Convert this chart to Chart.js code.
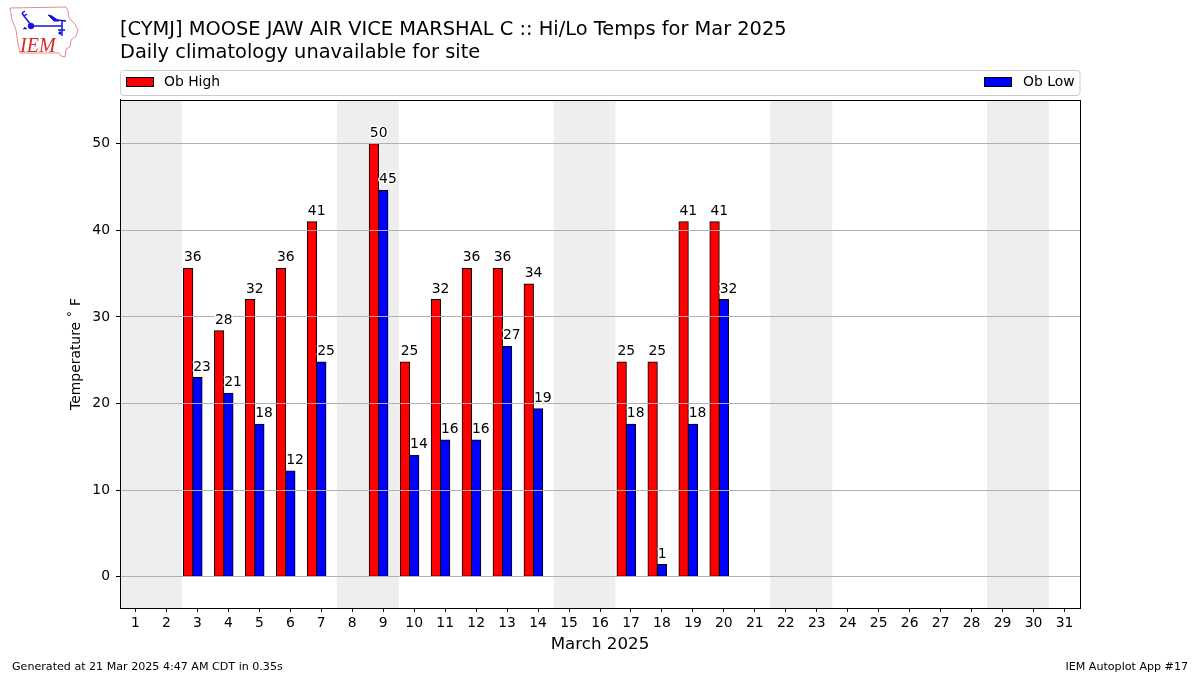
<!DOCTYPE html>
<html>
<head>
<meta charset="utf-8">
<title>CYMJ Hi/Lo Temps</title>
<script src="https://cdn.jsdelivr.net/npm/chart.js@4"></script>
<style>
  body { margin: 0; background: #fff; }
  #wrap { position: relative; width: 1200px; height: 675px; }
  #logo { position: absolute; left: 0; top: 0; }
</style>
</head>
<body>
<div id="wrap">
  <canvas id="tempChart" width="1200" height="675"></canvas>
  <!-- logo IEM -->
  <svg id="logo" width="90" height="62" viewBox="0 0 90 62">
    <path d="M10 8 L66 7 L68 11 L69 18 L75 24 L78 30 L76 36 L71 40 L70 47 L66 49 L65 57 L61 56 L59 53 L20 53 L18 44 L16 30 L12 20 Z" fill="#fff" stroke="#e58a8a" stroke-width="1"/>
    <g stroke="#1414d8" fill="#1414d8">
      <path d="M31 26 L62 26 M24 16 L31 25 M22 13 L24 16 M22 13 L25 11 M24 16 L27 14 M62 21 L62 36 M58 30 L65 30 M57 20 L66 21" stroke-width="1.5" fill="none"/>
      <path d="M48 15 L52 16 L59 21 L54 21 Z" stroke-width="1"/>
      <circle cx="31" cy="26" r="2.8"/>
      <path d="M23 29 L25 27 L27 29 Z" stroke-width="0.5"/>
      <circle cx="60" cy="33" r="1.2"/>
    </g>
    <text x="20" y="52" font-family="Liberation Serif" font-style="italic" font-size="20" fill="#d42a2a">IEM</text>
  </svg>
</div>
<script>
// Datos
const days = ['1','2','3','4','5','6','7','8','9','10','11','12','13','14','15','16','17','18','19','20','21','22','23','24','25','26','27','28','29','30','31'];
const obHigh = [null,null,35.6,28.4,32,35.6,41,null,50,24.8,32,35.6,35.6,33.8,null,null,24.8,24.8,41,41,null,null,null,null,null,null,null,null,null,null,null];
const obLow = [null,null,23,21.2,17.6,12.2,24.8,null,44.6,14,15.8,15.8,26.6,19.4,null,null,17.6,1.4,17.6,32,null,null,null,null,null,null,null,null,null,null,null];
const weekendBands = [['1','2'],['8','9'],['15','16'],['22','23'],['29','30']];

const FONT = '"DejaVu Sans"';
const BLACK = '#000000';

// Franjas grises de fin de semana
const bandsPlugin = {
  id: 'bands',
  beforeDraw(chart) {
    const { ctx, chartArea, scales: { x } } = chart;
    ctx.save();
    ctx.fillStyle = '#eeeeee';
    weekendBands.forEach(([a, b]) => {
      const x0 = x.getPixelForValue(days.indexOf(a) - 0.5);
      const x1 = x.getPixelForValue(days.indexOf(b) + 0.5);
      ctx.fillRect(x0, chartArea.top, x1 - x0, chartArea.bottom - chartArea.top);
    });
    ctx.restore();
  }
};

// Etiquetas sobre las barras, con halo blanco
const labelsPlugin = {
  id: 'barLabels',
  afterDraw(chart) {
    const { ctx } = chart;
    ctx.save();
    ctx.font = `13.9px ${FONT}`;
    ctx.textAlign = 'left';
    ctx.textBaseline = 'alphabetic';
    ctx.lineJoin = 'round';
    [0, 1].forEach(ds => {
      chart.getDatasetMeta(ds).data.forEach((bar, i) => {
        const v = chart.data.datasets[ds].data[i];
        if (v === null) return;
        const tx = bar.x - bar.width / 2 + 0.5;
        const ty = bar.y - 7;
        const text = String(Math.round(v));
        ctx.strokeStyle = '#ffffff';
        ctx.lineWidth = 3;
        ctx.strokeText(text, tx, ty);
        ctx.fillStyle = BLACK;
        ctx.fillText(text, tx, ty);
      });
    });
    ctx.restore();
  }
};

// Marco, leyenda a todo el ancho y pie de pagina
const framePlugin = {
  id: 'frame',
  afterDraw(chart) {
    const { ctx, chartArea: a } = chart;
    ctx.save();
    ctx.strokeStyle = BLACK;
    ctx.lineWidth = 1;
    ctx.strokeRect(Math.round(a.left) + 0.5, Math.round(a.top) + 0.5, Math.round(a.right - a.left), Math.round(a.bottom - a.top));

    // leyenda
    ctx.strokeStyle = '#cccccc';
    ctx.beginPath();
    ctx.roundRect(120.5, 70.5, 959.5, 25, 3);
    ctx.stroke();
    ctx.font = `13.9px ${FONT}`;
    ctx.textBaseline = 'middle';
    ctx.strokeStyle = BLACK;
    const hi = chart.data.datasets[0], lo = chart.data.datasets[1];
    ctx.fillStyle = hi.backgroundColor;
    ctx.fillRect(126.5, 77.5, 27, 9);
    ctx.strokeRect(126.5, 77.5, 27, 9);
    ctx.fillStyle = lo.backgroundColor;
    ctx.fillRect(984.5, 77.5, 27, 9);
    ctx.strokeRect(984.5, 77.5, 27, 9);
    ctx.fillStyle = BLACK;
    ctx.textAlign = 'left';
    ctx.fillText(hi.label, 164, 82);
    ctx.fillText(lo.label, 1023, 82);

    // pie
    ctx.font = `11.1px ${FONT}`;
    ctx.textBaseline = 'alphabetic';
    ctx.fillText('Generated at 21 Mar 2025 4:47 AM CDT in 0.35s', 12, 670);
    ctx.textAlign = 'right';
    ctx.fillText('IEM Autoplot App #17', 1188, 670);
    ctx.restore();
  }
};

new Chart(document.getElementById('tempChart').getContext('2d'), {
  type: 'bar',
  data: {
    labels: days,
    datasets: [
      { label: 'Ob High', data: obHigh, backgroundColor: '#ff0000', borderColor: BLACK, borderWidth: 1, borderSkipped: false, inflateAmount: 0.5 },
      { label: 'Ob Low', data: obLow, backgroundColor: '#0000ff', borderColor: BLACK, borderWidth: 1, borderSkipped: false, inflateAmount: 0.5 },
      // hueco vacio: deja la barra azul centrada en el dia
      { label: '', data: [] }
    ]
  },
  options: {
    responsive: false,
    animation: false,
    layout: { padding: { left: 65.5, right: 120, top: 0, bottom: 0 } },
    datasets: { bar: { categoryPercentage: 0.9, barPercentage: 1 } },
    plugins: {
      legend: { display: false },
      tooltip: { enabled: false },
      title: {
        display: true,
        fullSize: false,
        align: 'start',
        text: ['[CYMJ] MOOSE JAW AIR VICE MARSHAL C :: Hi/Lo Temps for Mar 2025', 'Daily climatology unavailable for site'],
        color: BLACK,
        font: { family: FONT, size: 19.4, weight: 'normal', lineHeight: 1.17 },
        padding: { top: 19, bottom: 35.6 }
      }
    },
    scales: {
      x: {
        grid: { drawOnChartArea: false, offset: false, tickLength: 4, tickColor: BLACK },
        border: { color: BLACK },
        ticks: { color: BLACK, font: { family: FONT, size: 13.9 }, maxRotation: 0, autoSkip: false, padding: 3 },
        title: { display: true, text: 'March 2025', color: BLACK, font: { family: FONT, size: 16.7 }, padding: { top: 0, bottom: 20 } },
        afterFit(scale) { scale.height = 67; }
      },
      y: {
        min: -3.61,
        max: 55.05,
        grid: { color: '#b0b0b0', tickColor: BLACK, tickLength: 4, z: 1 },
        border: { color: BLACK, z: 2 },
        ticks: { color: BLACK, font: { family: FONT, size: 13.9 }, stepSize: 10, includeBounds: false, padding: 6 },
        title: { display: true, text: 'Temperature ˚ F', color: BLACK, font: { family: FONT, size: 13.9 }, padding: { top: 3, bottom: 0 } },
        afterFit(scale) { scale.width = 54.5; }
      }
    }
  },
  plugins: [bandsPlugin, labelsPlugin, framePlugin]
});
</script>
</body>
</html>
